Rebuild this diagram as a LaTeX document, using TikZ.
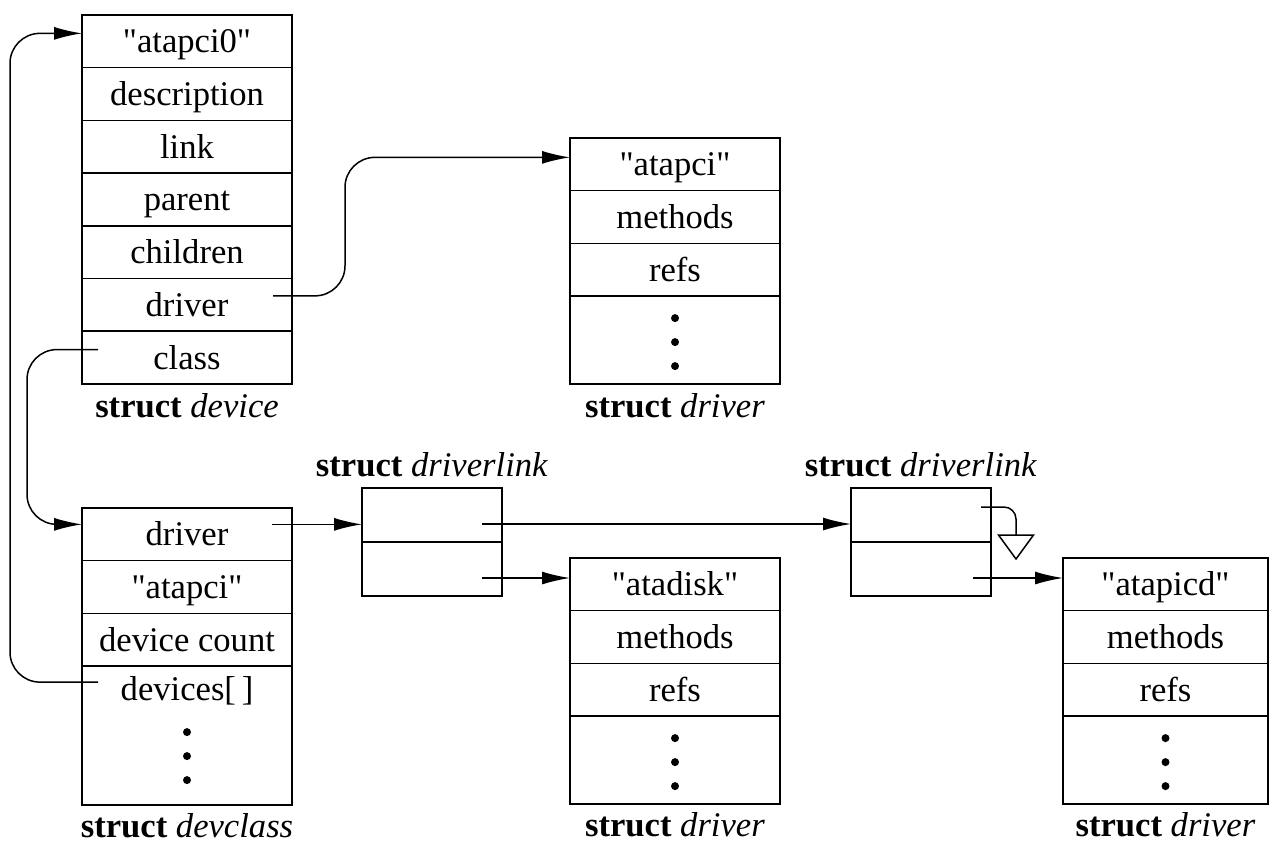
\documentclass[tikz,border=0pt]{standalone}
\usepackage{fontspec}
\setmainfont{Liberation Serif}[Ligatures=TeXOff]
\usetikzlibrary{arrows.meta,positioning}

\begin{document}
\begin{tikzpicture}[x=0.5pt,y=-0.5pt,
  every node/.style={font=\fontsize{17.3}{20}\selectfont,align=center},
  field/.style={draw,line width=0.75pt,outer sep=0pt,inner sep=0pt,minimum width=105pt,minimum height=26.35pt,text height=14pt,text depth=2.5pt},
  tail/.style={field,minimum height=44pt},
  linkcell/.style={field,minimum width=70pt,minimum height=27pt},
  caption/.style={inner sep=3pt},
  ptr/.style={-{Latex[length=14pt,width=6.5pt]},line width=0.75pt},
  bent/.style={ptr,rounded corners=15pt}]
\useasboundingbox (0,0) rectangle (1270,843);
% struct device
\node[field,anchor=north west] (name) at (82,15) {"atapci0"};
\node[field,below=0pt of name] (desc) {description};
\node[field,below=0pt of desc] (lnk) {link};
\node[field,below=0pt of lnk] (par) {parent};
\node[field,below=0pt of par] (kids) {children};
\node[field,below=0pt of kids] (drv) {driver};
\node[field,below=0pt of drv] (cls) {class};
\node[caption,below=1.5pt of cls] (devcap) {\textbf{struct} \textit{device}};
% struct driver (atapci)
\node[field,anchor=north west] (dname) at (570,138) {"atapci"};
\node[field,below=0pt of dname] (dmeth) {methods};
\node[field,below=0pt of dmeth] (drefs) {refs};
\node[tail,below=0pt of drefs] (dtail) {};
\node[caption,below=1.5pt of dtail] (drvcap) {\textbf{struct} \textit{driver}};
% struct devclass
\node[field,anchor=north west] (cdrv) at (82,508) {driver};
\node[field,below=0pt of cdrv] (cname) {"atapci"};
\node[field,below=0pt of cname] (count) {device count};
\node[tail,minimum height=69.5pt,below=0pt of count] (devs) {};
\node[inner sep=0pt] (devstxt) at ([yshift=-12.5pt]devs.north) {devices[\,]};
\node[caption,below=1pt of devs] (clscap) {\textbf{struct} \textit{devclass}};
% struct driverlink (two of them)
\node[linkcell,anchor=north west] (linkA1) at (362,488) {};
\node[linkcell,below=0pt of linkA1] (linkA2) {};
\node[caption,above=2.5pt of linkA1] (lnkAcap) {\textbf{struct} \textit{driverlink}};
\node[linkcell,anchor=north west] (linkB1) at (851,488) {};
\node[linkcell,below=0pt of linkB1] (linkB2) {};
\node[caption,above=2.5pt of linkB1] (lnkBcap) {\textbf{struct} \textit{driverlink}};
% struct driver (atadisk)
\node[field,anchor=north west] (disk) at (570,558) {"atadisk"};
\node[field,below=0pt of disk] (kmeth) {methods};
\node[field,below=0pt of kmeth] (krefs) {refs};
\node[tail,below=0pt of krefs] (ktail) {};
\node[caption,below=1pt of ktail] (diskcap) {\textbf{struct} \textit{driver}};
% struct driver (atapicd)
\node[field,minimum width=102.5pt,anchor=north west] (cd) at (1063,558) {"atapicd"};
\node[field,minimum width=102.5pt,below=0pt of cd] (cmeth) {methods};
\node[field,minimum width=102.5pt,below=0pt of cmeth] (crefs) {refs};
\node[tail,minimum width=102.5pt,below=0pt of crefs] (ctail) {};
\node[caption,below=1pt of ctail] (cdcap) {\textbf{struct} \textit{driver}};
% the vertical dots
\foreach \b/\o in {dtail/11,ktail/11,ctail/11,devs/33}
  \foreach \k in {0,1,2}
    \fill ([yshift={-(\o+12*\k)*1pt}]\b.north) circle (2pt);
% pointers
\coordinate (loopA) at (10,0);
\coordinate (loopB) at (27,0);
\coordinate (loopC) at (345,0);
\draw[bent] ([xshift=8pt,yshift=-8pt]devs.north west) coordinate (p) -- (p -| loopA) |- ([yshift=4pt]name.west);
\draw[bent] ([xshift=8pt,yshift=4pt]cls.west) coordinate (q) -- (q -| loopB) |- ([yshift=5pt]cdrv.west);
\draw[bent] ([xshift=-9.5pt,yshift=4.5pt]drv.east) coordinate (r) -- (r -| loopC) |- ([yshift=3.5pt]dname.west);
\draw[ptr] ([xshift=-10pt,yshift=5pt]cdrv.east) coordinate (s) -- (s -| linkA1.west);
\draw[ptr] ([xshift=-10pt,yshift=-4.5pt]linkA1.east) coordinate (t) -- (t -| linkB1.west);
\draw[ptr] ([xshift=-10pt,yshift=-4.5pt]linkA2.east) coordinate (u) -- (u -| disk.west);
\draw[ptr] ([xshift=-9pt,yshift=-4.5pt]linkB2.east) coordinate (v) -- (v -| cd.west);
% null pointer
\coordinate (nil) at ([xshift=12.5pt,yshift=-10pt]linkB1.east);
\draw[line width=0.75pt,rounded corners=6pt] ([xshift=-5pt,yshift=4pt]linkB1.east) -| (nil);
\draw[line width=0.75pt] (nil) ++(-17.5,0) -- ++(35,0) -- ++(-17.5,24) -- cycle;
\end{tikzpicture}
\end{document}
